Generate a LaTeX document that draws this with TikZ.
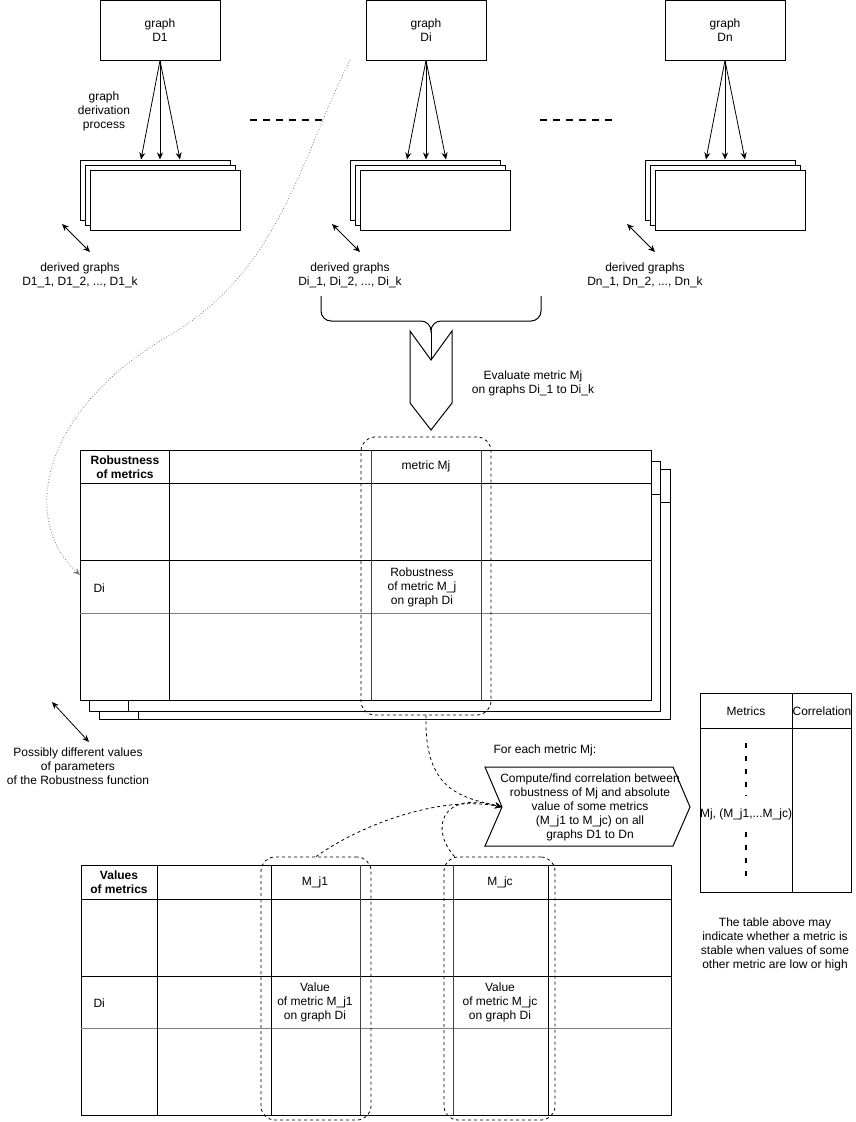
\documentclass[tikz,border=0pt]{standalone}
\usepackage{fontspec}
\setmainfont{Liberation Sans}
\usetikzlibrary{arrows.meta}
\tikzset{
  gbox/.style={draw, minimum width=120pt, minimum height=60pt, align=center, inner sep=0pt},
  sbox/.style={draw, fill=white, minimum width=150pt, minimum height=60pt},
  txt/.style={align=center, inner sep=0pt},
  hdr/.style={txt, font=\fontsize{12}{14}\selectfont\bfseries},
  arr/.style={-{Stealth[length=7pt,width=6pt]}, line width=0.8pt},
  darr/.style={{Stealth[length=7pt,width=6pt]}-{Stealth[length=7pt,width=6pt]}, line width=0.8pt},
  dbox/.style={draw, rounded corners=14pt, dash pattern=on 3pt off 3pt, line width=0.8pt},
  dcon/.style={arr, dash pattern=on 3pt off 3pt},
  sep/.style={line width=1.5pt, dash pattern=on 7pt off 6pt},
  vdash/.style={line width=2pt, dash pattern=on 5pt off 8pt},
}
\begin{document}
\begin{tikzpicture}[x=1pt, y=-1pt, font=\fontsize{12}{14}\selectfont, line width=1pt]
\useasboundingbox (0,0) rectangle (855,1122);

% graphs D1, Di, Dn and their derived graphs
\foreach \k/\bx/\gx in {1/155/160, i/425/426, n/720/725}{
  \node[gbox] (g\k) at (\gx,30) {graph\\D\k};
  \node[sbox] (sa\k) at (\bx,190) {};
  \node[sbox] (sb\k) at (\bx+5,195) {};
  \node[sbox] (sc\k) at (\bx+10,200) {};
  \coordinate (t\k) at (sa\k.north -| g\k.south);
  \draw[arr] (g\k.south) -- ([xshift=-19pt]t\k);
  \draw[arr] (g\k.south) -- (t\k);
  \draw[arr] (g\k.south) -- ([xshift=20pt]t\k);
  \coordinate (u\k) at (\bx-93,224);
  \coordinate (v\k) at (\bx-65,252);
  \draw[darr] (u\k) -- (v\k);
  \node[txt] (l\k) at (\bx-75,275) {derived graphs\\D\k\_1, D\k\_2, ..., D\k\_k};
}
\node[txt] (proc) at (104,111) {graph\\derivation\\process};
\draw[sep] (250,120) -- (328,120);
\draw[sep] (540,120) -- (618,120);

% brace and evaluation step
\draw (321,296) -- (321,311) to[out=-90,in=180] (331,321) -- (421,321)
  to[out=0,in=90] (431,331) to[out=90,in=180] (441,321) -- (531,321)
  to[out=0,in=-90] (541,311) -- (541,296);
\draw (431,331) -- (431,360);
\draw (410,331) -- (431,360) -- (452,331) -- (452,403) -- (431,430) -- (410,403) -- cycle;
\node[txt] (eval) at (533,383) {Evaluate metric Mj\\on graphs Di\_1 to Di\_k};

% robustness table
\foreach \dx/\dy in {19/19, 9/11}{
  \filldraw[fill=white] (80+\dx,450+\dy) rectangle (651+\dx,700+\dy);
  \draw (80+\dx,483+\dy) -- (651+\dx,483+\dy);
  \draw (119+\dx,450+\dy) -- (119+\dx,700+\dy);
}
\filldraw[fill=white] (80,450) rectangle (651,700);
\draw (80,483) -- (651,483) (80,560) -- (651,560);
\draw[gray] (80,613) -- (651,613);
\draw (169,450) -- (169,700);
\draw[darkgray] (371,450) -- (371,700) (481,450) -- (481,700);
\node[hdr] (rhead) at (125,467) {Robustness\\of metrics};
\node[txt] (mjhead) at (426,466) {metric Mj};
\node[txt, anchor=west] (rdi) at (93,588) {Di};
\node[txt] (rcell) at (422,587) {Robustness\\of metric M\_j\\on graph Di};
\node[dbox, minimum width=130pt, minimum height=278pt] (mjcol) at (426,576) {};

% link from graph Di to its row
\coordinate (dstart) at (350,60);
\coordinate (dend) at (80,575);
\draw[gray, dotted, arr] (dstart) .. controls (300,160) and (280,270) .. (170,335)
  .. controls (40,410) and (20,520) .. (dend);

\coordinate (pa) at (52,702);
\coordinate (pb) at (89,742);
\draw[darr] (pa) -- (pb);
\node[txt] (params) at (78,766) {Possibly different values\\of parameters\\of the Robustness function};

% correlation step
\node[txt, anchor=west] (foreach) at (493,750) {For each metric Mj:};
\draw (485,767) -- (673,767) -- (690,807) -- (673,846) -- (485,846) -- (502,807) -- cycle;
\node[txt] (cmp) at (590,807) {Compute/find correlation between\\robustness of Mj and absolute\\value of some metrics\\(M\_j1 to M\_jc) on all\\graphs D1 to Dn};
\coordinate (notch) at (502,807);

% metrics / correlation table
\draw (700,693) rectangle (851,892);
\draw (700,728) -- (851,728) (792,693) -- (792,892);
\node[txt] (mhead) at (746,711) {Metrics};
\node[txt] (chead) at (822,711) {Correlation};
\node[txt, minimum height=35pt] (mj) at (746,814) {Mj, (M\_j1,...M\_jc)};
\coordinate (mtop) at (746,743);
\coordinate (mbot) at (746,880);
\draw[vdash] (mtop) -- (mj.north);
\draw[vdash] (mj.south) -- (mbot);
\node[txt] (note) at (775,944) {The table above may\\indicate whether a metric is\\stable when values of some\\other metric are low or high};

% values table
\draw (81,865) rectangle (671,1115);
\draw (81,899) -- (671,899) (81,976) -- (671,976);
\draw[gray] (81,1028) -- (671,1028);
\draw (157,865) -- (157,1115) (271,865) -- (271,1115) (548,865) -- (548,1115);
\draw[darkgray] (360,865) -- (360,1115) (453,865) -- (453,1115);
\node[hdr] (vhead) at (119,882) {Values\\of metrics};
\node[txt] (j1head) at (315,882) {M\_j1};
\node[txt] (jchead) at (500,882) {M\_jc};
\node[txt, anchor=west] (vdi) at (93,1003) {Di};
\node[txt] (j1cell) at (315,1002) {Value\\of metric M\_j1\\on graph Di};
\node[txt] (jccell) at (500,1002) {Value\\of metric M\_jc\\on graph Di};
\node[dbox, minimum width=110pt, minimum height=263pt] (j1col) at (316,988.5) {};
\node[dbox, minimum width=111pt, minimum height=263pt] (jccol) at (499.5,988.5) {};

% connections into the correlation step
\draw[dcon] (mjcol.south) .. controls (424,790) and (460,797) .. (notch);
\draw[dcon] (j1col.north) .. controls (360,825) and (440,795) .. (notch);
\draw[dcon] ([xshift=11pt]jccol.north west) .. controls (430,830) and (440,790) .. (notch);
\end{tikzpicture}
\end{document}
